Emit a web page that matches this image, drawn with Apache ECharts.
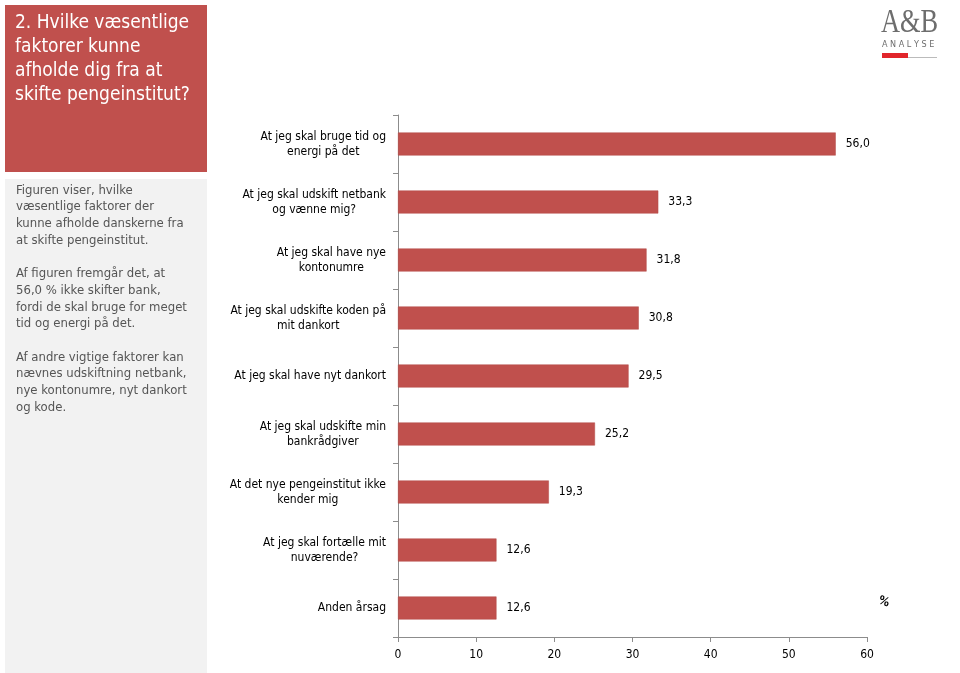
<!DOCTYPE html>
<html>
<head>
<meta charset="utf-8">
<script src="https://cdn.jsdelivr.net/npm/echarts@6/dist/echarts.min.js"></script>
<style>
html, body { margin: 0; padding: 0; background: #fff; }
#main { width: 960px; height: 673px; }
</style>
</head>
<body>
<div id="main"></div>
<script>
var categories = [
    'At jeg skal bruge tid og\nenergi på det',
    'At jeg skal udskift netbank\nog vænne mig?',
    'At jeg skal have nye\nkontonumre',
    'At jeg skal udskifte koden på\nmit dankort',
    'At jeg skal have nyt dankort',
    'At jeg skal udskifte min\nbankrådgiver',
    'At det nye pengeinstitut ikke\nkender mig',
    'At jeg skal fortælle mit\nnuværende?',
    'Anden årsag'
];
var values = [56.0, 33.3, 31.8, 30.8, 29.5, 25.2, 19.3, 12.6, 12.6];
var xTicks = [0, 10, 20, 30, 40, 50, 60];

var titleLines = ['2. Hvilke væsentlige', 'faktorer kunne', 'afholde dig fra at', 'skifte pengeinstitut?'];
var infoText = 'Figuren viser, hvilke\nvæsentlige faktorer der\nkunne afholde danskerne fra\nat skifte pengeinstitut.\n\n' +
    'Af figuren fremgår det, at\n56,0 % ikke skifter bank,\nfordi de skal bruge for meget\ntid og energi på det.\n\n' +
    'Af andre vigtige faktorer kan\nnævnes udskiftning netbank,\nnye kontonumre, nyt dankort\nog kode.';

var FONT = '"DejaVu Sans Condensed", "DejaVu Sans", Verdana, sans-serif';
var RED = '#c0504d';

var chart = echarts.init(document.getElementById('main'));

var option = {
    backgroundColor: '#fff',
    animation: false,
    grid: { left: 398, right: 93, top: 115, bottom: 36, containLabel: false },
    xAxis: {
        type: 'value',
        min: xTicks[0],
        max: xTicks[xTicks.length - 1],
        interval: 10,
        splitLine: { show: false },
        axisLine: { show: true, lineStyle: { color: '#8c8c8c' } },
        axisTick: { show: true, length: 5, lineStyle: { color: '#8c8c8c' } },
        axisLabel: { color: '#000', fontFamily: FONT, fontSize: 12, margin: 12 }
    },
    yAxis: {
        type: 'category',
        inverse: true,
        data: categories,
        axisLine: { show: true, lineStyle: { color: '#8c8c8c' } },
        axisTick: { show: true, length: 5, lineStyle: { color: '#8c8c8c' } },
        axisLabel: {
            color: '#000',
            fontFamily: FONT,
            fontSize: 12,
            margin: 12,
            lineHeight: 15,
            formatter: function(val)
            {
                /* Center each line inside the right aligned block. */
                return val.split('\n').map(function(line){ return '{c|' + line + '}'; }).join('\n');
            },
            rich: { c: { align: 'center', fontFamily: FONT, fontSize: 12, lineHeight: 15, color: '#000' } }
        }
    },
    series: [{
        type: 'bar',
        data: values,
        barWidth: 23,
        itemStyle: { color: RED, borderColor: '#b24a47', borderWidth: 0.5 },
        label: {
            show: true,
            position: 'right',
            distance: 10,
            color: '#000',
            fontFamily: FONT,
            fontSize: 12,
            formatter: function(p){ return p.value.toFixed(1).replace('.', ','); }
        }
    }],
    graphic: [
        { type: 'rect', shape: { x: 5, y: 5, width: 202, height: 167 }, style: { fill: RED } },
        {
            type: 'text', left: 15, top: 11,
            style: { text: titleLines.join('\n'), fill: '#fff', font: '19px ' + FONT, lineHeight: 24 }
        },
        { type: 'rect', shape: { x: 5, y: 179, width: 202, height: 494 }, style: { fill: '#f2f2f2' } },
        {
            type: 'text', left: 16, top: 182,
            style: { text: infoText, fill: '#555555', font: '13px ' + FONT, lineHeight: 16.7 }
        },
        {
            type: 'text', x: 881, y: 7, scaleX: 0.8,
            style: { text: 'A&B', fill: '#6d6d6d', font: '33px "Liberation Serif", "DejaVu Serif", serif' }
        },
        {
            type: 'text', x: 882, y: 40,
            style: { text: 'A N A L Y S E', fill: '#6d6d6d', font: '9px ' + FONT }
        },
        { type: 'rect', shape: { x: 882, y: 53, width: 26, height: 5 }, style: { fill: '#e1252b' } },
        { type: 'line', shape: { x1: 908, y1: 57.5, x2: 937, y2: 57.5 }, style: { stroke: '#bbbbbb', lineWidth: 1 } },
        {
            type: 'text', x: 884, y: 602, rotation: -0.35,
            style: { text: '%', fill: '#000', font: 'bold 12px ' + FONT, align: 'center', verticalAlign: 'middle' }
        }
    ]
};

chart.setOption(option);
</script>
</body>
</html>
